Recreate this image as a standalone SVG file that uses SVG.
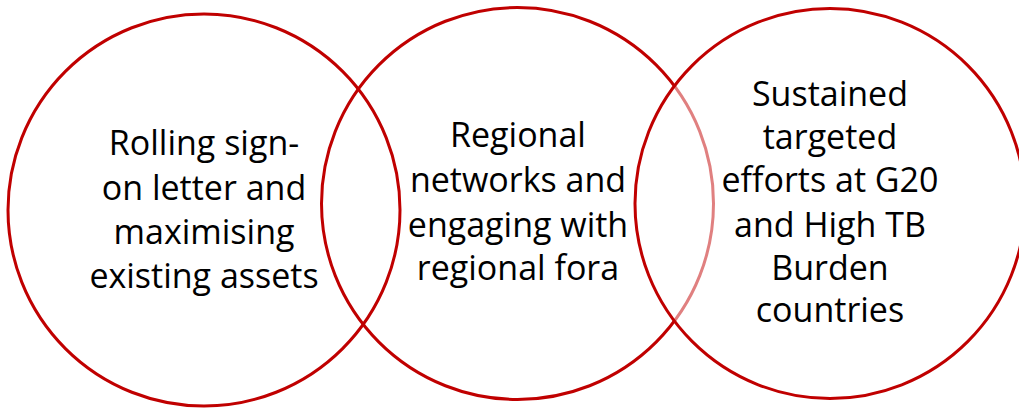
<svg xmlns="http://www.w3.org/2000/svg" width="1019" height="408" viewBox="0 0 1019 408">
<style>
.c{fill:none;stroke:#c00000;stroke-width:3}
.t{font-family:"Open Sans","Liberation Sans",sans-serif;font-size:34px;fill:#000;text-anchor:middle}
</style>
<rect width="1019" height="408" fill="#fff"/>
<g id="connectors"></g>
<g id="node-left">
<circle class="c" cx="204" cy="210" r="196"/>
</g>
<g id="node-middle">
<circle class="c" cx="517.5" cy="203.5" r="196"/>
</g>
<g id="node-right">
<circle class="c" cx="830" cy="203.5" r="195" style="fill:#fff;fill-opacity:0.5"/>
</g>
<g id="label-left" class="t">
<text x="204" y="155">Rolling sign-</text>
<text x="204" y="200">on letter and</text>
<text x="204" y="244">maximising</text>
<text x="204" y="288">existing assets</text>
</g>
<g id="label-middle" class="t">
<text x="518" y="147">Regional</text>
<text x="518" y="192">networks and</text>
<text x="518" y="237">engaging with</text>
<text x="518" y="280">regional fora</text>
</g>
<g id="label-right" class="t">
<text x="830" y="106">Sustained</text>
<text x="830" y="149">targeted</text>
<text x="830" y="192">efforts at G20</text>
<text x="830" y="237">and High TB</text>
<text x="830" y="280">Burden</text>
<text x="830" y="322">countries</text>
</g>
</svg>
